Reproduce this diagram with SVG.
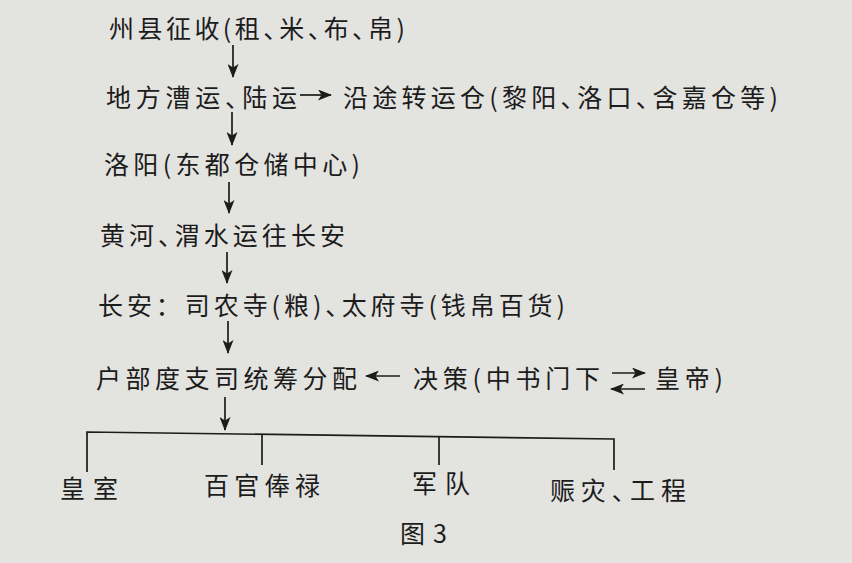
<svg xmlns="http://www.w3.org/2000/svg" width="852" height="563" viewBox="0 0 852 563">
<defs>
<style>
.t{font-family:"Noto Sans CJK SC","Noto Sans CJK JP",sans-serif;font-size:25px;fill:#1c1c1c;}
.h{font-feature-settings:"halt";}
.c{stroke:#1c1c1c;stroke-width:1.7;fill:none;}
</style>
<marker id="ah" viewBox="0 0 14 11" refX="13" refY="5.5" markerWidth="14" markerHeight="11" markerUnits="userSpaceOnUse" orient="auto">
<path d="M0,0 L14,5.5 L0,11 L3.5,5.5 Z" fill="#1c1c1c"/>
</marker>
</defs>
<rect width="852" height="563" fill="#e3e3e0"/>
<g id="n1"><text class="t h" x="109" y="38" textLength="296" lengthAdjust="spacing">州县征收(租、米、布、帛)</text></g>
<g id="n2"><text class="t h" x="106" y="107" textLength="191" lengthAdjust="spacing">地方漕运、陆运</text></g>
<g id="n3"><text class="t h" x="343" y="107" textLength="435" lengthAdjust="spacing">沿途转运仓(黎阳、洛口、含嘉仓等)</text></g>
<g id="n4"><text class="t" x="104" y="174" textLength="256" lengthAdjust="spacing">洛阳(东都仓储中心)</text></g>
<g id="n5"><text class="t h" x="100" y="245" textLength="245" lengthAdjust="spacing">黄河、渭水运往长安</text></g>
<g id="n6"><text class="t" x="98" y="315" textLength="467" lengthAdjust="spacing">长安：司农寺(粮)<tspan class="h">、</tspan>太府寺(钱帛百货)</text></g>
<g id="n7"><text class="t" x="96" y="388" textLength="261" lengthAdjust="spacing">户部度支司统筹分配</text></g>
<g id="n8"><text class="t" x="413" y="388" textLength="187" lengthAdjust="spacing">决策(中书门下</text></g>
<g id="n9"><text class="t" x="655" y="388" textLength="68" lengthAdjust="spacing">皇帝)</text></g>
<g id="n10"><text class="t" x="60" y="498" textLength="58" lengthAdjust="spacing">皇室</text></g>
<g id="n11"><text class="t" x="204" y="495" textLength="116" lengthAdjust="spacing">百官俸禄</text></g>
<g id="n12"><text class="t" x="412" y="493" textLength="58" lengthAdjust="spacing">军队</text></g>
<g id="n13"><text class="t h" x="550" y="500" textLength="136" lengthAdjust="spacing">赈灾、工程</text></g>
<g id="caption"><text class="t" x="400" y="543" textLength="47" lengthAdjust="spacing">图3</text></g>
<g id="connectors">
<line class="c" x1="233" y1="45" x2="233" y2="77" marker-end="url(#ah)"/>
<line class="c" x1="232" y1="112" x2="232" y2="145" marker-end="url(#ah)"/>
<line class="c" x1="229" y1="182" x2="229" y2="213" marker-end="url(#ah)"/>
<line class="c" x1="227" y1="252" x2="227" y2="283" marker-end="url(#ah)"/>
<line class="c" x1="228" y1="321" x2="228" y2="353" marker-end="url(#ah)"/>
<line class="c" x1="225" y1="397" x2="225" y2="430" marker-end="url(#ah)"/>
<line class="c" x1="300" y1="95" x2="331" y2="95" marker-end="url(#ah)"/>
<line class="c" x1="400" y1="376" x2="366" y2="376" marker-end="url(#ah)"/>
<line class="c" x1="612" y1="373" x2="645" y2="373" marker-end="url(#ah)"/>
<line class="c" x1="645" y1="389" x2="611" y2="389" marker-end="url(#ah)"/>
<path class="c" d="M87,472 L87,432 L614,439 L614,470"/>
<line class="c" x1="262" y1="434.3" x2="262" y2="465"/>
<line class="c" x1="439" y1="436.7" x2="439" y2="465"/>
</g>
</svg>
